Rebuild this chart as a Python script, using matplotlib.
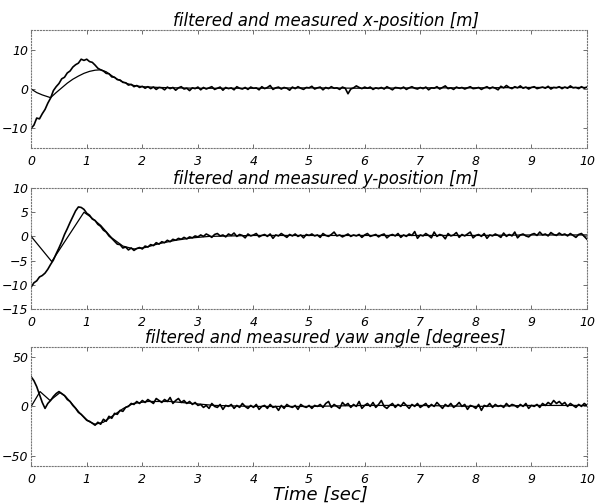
import numpy as np
import matplotlib
matplotlib.use('Agg')
import matplotlib.pyplot as plt

# sample time of the measured signals [sec]
t_meas = np.round(np.arange(0, 10.001, 0.05), 2)

# measured x-position [m]
x_meas = [
    -10.0, -9.2, -7.4, -7.6, -6.3, -5.2, -3.6, -2.3, -0.4, 0.6,
    1.4, 2.6, 3.0, 4.1, 4.6, 5.6, 6.2, 6.6, 7.6, 7.3,
    7.6, 7.0, 6.8, 6.1, 5.3, 4.9, 4.6, 4.0, 3.9, 3.1,
    3.0, 2.4, 2.3, 1.7, 1.6, 1.0, 1.2, 0.6, 0.9, 0.4, 0.7,
    0.2, 0.6, 0.1, 0.5, -0.1, 0.4, 0.3, -0.2, 0.5, 0.1,
    0.4, -0.3, 0.3, 0.6, 0.0, 0.2, -0.4, 0.3, 0.1, 0.5,
    -0.2, 0.4, 0.0, 0.3, 0.6, -0.1, 0.2, 0.5, -0.3, 0.4,
    0.1, 0.3, -0.2, 0.6, 0.2, 0.0, 0.4, -0.1, 0.5, 0.2,
    0.3, -0.2, 0.6, 0.1, 0.4, 0.9, -0.1, 0.3, 0.5, 0.0,
    0.4, 0.2, -0.3, 0.5, 0.1, 0.6, 0.2, -0.1, 0.4, 0.3,
    0.7, 0.0, 0.3, 0.5, -0.2, 0.4, 0.1, 0.6, 0.2, 0.3,
    -0.1, 0.5, 0.2, -1.2, 0.0, 0.3, 0.8, 0.4, 0.1, 0.5,
    0.2, 0.5, -0.1, 0.3, 0.1, 0.4, 0.0, 0.6, 0.2, -0.2,
    0.4, 0.3, 0.1, 0.5, -0.1, 0.3, 0.6, 0.2, 0.0, 0.4,
    0.1, 0.5, -0.2, 0.3, 0.2, 0.6, 0.0, 0.4, 0.8, 0.1,
    0.3, -0.1, 0.5, 0.2, 0.4, 0.0, 0.3, 0.6, 0.1, 0.2,
    0.4, -0.1, 0.3, 0.6, 0.1, 0.5, 0.2, -0.2, 0.7, 0.3,
    0.9, 0.4, 0.1, 0.6, 0.3, 0.8, 0.2, 0.5, 0.0, 0.4,
    0.6, 0.1, 0.3, 0.5, 0.2, 0.7, 0.0, 0.4, 0.3, 0.6,
    0.1, 0.5, 0.2, 0.8, 0.3, 0.4, 0.1, 0.6, 0.2, 0.5,
]

# measured y-position [m]
y_meas = [
    -10.5, -9.6, -9.2, -8.4, -8.1, -7.6, -6.8, -5.8, -4.9, -3.6,
    -2.4, -1.1, 0.4, 1.6, 2.9, 4.1, 5.3, 6.1, 6.0, 5.6,
    4.8, 4.4, 3.6, 3.3, 2.5, 2.1, 1.3, 0.9, 0.1, -0.4,
    -1.0, -1.6, -1.7, -2.4, -2.2, -2.8, -2.4, -2.9, -2.5, -2.3,
    -2.6, -2.0, -2.2, -1.7, -1.9, -1.3, -1.6, -1.1, -1.3, -0.8,
    -1.1, -0.6, -0.8, -0.4, -0.6, -0.2, -0.5, -0.1, -0.3, 0.1, -0.1,
    0.3, 0.0, 0.5, 0.2, -0.2, 0.4, 0.6, 0.1, 0.3, -0.1,
    0.5, 0.2, 0.7, 0.0, 0.4, 0.2, -0.3, 0.5, 0.1, 0.3,
    0.6, -0.1, 0.2, 0.4, 0.0, 0.5, -0.4, 0.3, 0.1, 0.6,
    0.2, -0.2, 0.4, 0.1, 0.5, 0.0, 0.3, -0.3, 0.4, 0.2,
    0.5, 0.1, 0.3, -0.2, 0.6, 0.2, 0.0, 0.4, 0.9, 0.1,
    0.3, -0.1, 0.2, 0.5, 0.0, 0.3, 0.1, 0.4, -0.2, 0.3,
    0.6, 0.0, 0.2, 0.4, -0.1, 0.3, 0.5, -0.3, 0.2, 0.4,
    0.1, 0.6, -0.2, 0.3, 0.0, 0.5, 0.2, 1.0, -0.4, 0.3,
    0.1, 0.6, 0.2, -0.3, 0.9, 0.0, 0.4, 0.2, -0.5, 0.6,
    0.1, 0.3, 0.8, -0.2, 0.4, 0.1, 0.5, 0.9, -0.3, 0.2,
    0.4, 0.0, 0.6, -0.4, 0.3, 0.1, 0.5, 0.2, -0.2, 0.7,
    0.0, 0.4, 0.1, 0.9, -0.3, 0.3, 0.5, 0.1, -0.1, 0.4,
    0.6, 0.2, 0.9, 0.3, 0.5, 0.1, 0.8, 0.4, 0.2, 0.7,
    0.3, 0.5, 0.1, 0.6, 0.2, -0.2, 0.4, 0.6, 0.0, -0.6,
]

# measured yaw angle [degrees]
yaw_meas = [
    30, 26, 20, 12, 4, -2, 3, 6, 10, 13,
    15, 13, 11, 7, 5, 1, -2, -6, -8, -11,
    -14, -15, -17, -19, -16, -18, -13, -15, -10, -12,
    -7, -8, -4, -5, -1, 0, 3, 2, 5, 3, 6,
    4, 7, 5, 3, 8, 6, 4, 7, 5, 9,
    3, 6, 8, 4, 6, 3, 5, 2, 4, 1,
    2, -1, 1, -2, 3, 0, -1, 2, -3, 1,
    0, 2, -2, 1, -1, 3, 0, -2, 1, -1,
    2, -3, 0, 1, -2, 2, -1, 0, -4, 1,
    -2, 2, 0, -1, 1, -3, 2, 0, -1, 1,
    -2, 1, 0, 2, -1, 3, 5, -1, 2, 0,
    -2, 4, 1, 3, -1, 2, 0, 5, -2, 1,
    3, 0, 4, -1, 2, 6, 0, -2, 1, 3,
    -1, 2, 0, 4, 1, -2, 2, 0, 3, -1,
    1, 3, -1, 2, 0, 4, 1, -2, 2, 0,
    3, -1, 1, 4, 0, 2, -3, 1, 0, -2,
    2, -4, 1, 0, 3, -1, 2, 0, 1, -1,
    3, 0, 2, 1, -1, 2, 0, 3, -2, 1,
    0, 2, -1, 3, 1, 4, 2, 6, 3, 5,
    2, 4, 0, 3, 1, -1, 2, 0, 3, 1,
]

# filtered estimates, read at breakpoints
x_filt_t = [0, 0.1, 0.2, 0.35, 0.45, 0.55, 0.65, 0.75, 0.85, 0.95, 1.05, 1.15,
            1.25, 1.35, 1.45, 1.55, 1.65, 1.75, 1.85, 2.0, 2.3, 2.6, 3.0, 4.0,
            5.0, 6.0, 7.0, 8.0, 9.0, 10.0]
x_filt = [0, -0.9, -1.5, -2.2, -0.9, 0.3, 1.5, 2.5, 3.3, 4.0, 4.5, 4.8,
          4.9, 4.4, 3.4, 2.5, 1.8, 1.3, 0.9, 0.6, 0.4, 0.3, 0.2, 0.2,
          0.3, 0.2, 0.3, 0.3, 0.4, 0.4]

y_filt_t = [0, 0.37, 0.95, 1.05, 1.25, 1.45, 1.65, 1.85, 2.05, 2.3, 2.6, 2.9,
            3.2, 4, 5, 6, 7, 8, 9, 10]
y_filt = [0, -5.2, 5.0, 4.2, 2.3, -0.3, -2.0, -2.6, -2.3, -1.5, -0.8, -0.3,
          0.0, 0.2, 0.2, 0.2, 0.2, 0.2, 0.3, 0.3]

yaw_filt_t = [0, 0.16, 0.34, 0.52, 0.62, 0.73, 0.88, 1.03, 1.15, 1.3, 1.48, 1.66,
              1.84, 2.1, 2.5, 2.9, 3.3, 4, 5, 6, 7, 8, 9, 10]
yaw_filt = [0, 15, 6, 14, 10, 3, -7, -15, -18, -16, -9, -2,
            3, 5, 5, 3, 1, 0, 0, 1, 1, 0, 1, 1]

titles = ['filtered and measured x-position [m]',
          'filtered and measured y-position [m]',
          'filtered and measured yaw angle [degrees]']
ylims = [(-15, 15), (-15, 10), (-60, 60)]
yticks = [[-10, 0, 10], [-15, -10, -5, 0, 5, 10], [-50, 0, 50]]
xticks = list(range(0, 11))

plt.rcParams['font.family'] = ['DejaVu Sans']

fig = plt.figure(figsize=(5.99, 5.03), dpi=100)

# axes boxes in figure fractions (left, bottom, width, height)
boxes = [(0.052, 0.706, 0.928, 0.234),
         (0.052, 0.386, 0.928, 0.240),
         (0.052, 0.074, 0.928, 0.236)]

series = [(x_meas, x_filt_t, x_filt),
          (y_meas, y_filt_t, y_filt),
          (yaw_meas, yaw_filt_t, yaw_filt)]

for i, box in enumerate(boxes):
    ax = fig.add_axes(box)
    meas, ft, fv = series[i]
    ax.plot(t_meas, meas, color='black', lw=1.2)
    ax.plot(ft, fv, color='black', lw=0.9)

    ax.set_xlim(0, 10)
    ax.set_ylim(*ylims[i])
    ax.set_xticks(xticks)
    ax.set_yticks(yticks[i])
    ax.tick_params(direction='in', top=True, right=True, length=3,
                   width=0.6, color='#555555', labelsize=9)
    ax.tick_params(axis='x', pad=5)
    ax.tick_params(axis='y', pad=2)
    for lab in ax.get_xticklabels() + ax.get_yticklabels():
        lab.set_fontstyle('italic')
    for sp in ax.spines.values():
        sp.set_linestyle(':')
        sp.set_color('#777777')
        sp.set_linewidth(0.8)
    ax.set_title(titles[i], fontsize=12, style='italic', x=0.53, pad=3)

ax.set_xlabel('Time [sec]', fontsize=13, style='italic', labelpad=0, x=0.52)

fig.savefig('out.png', dpi=100)
